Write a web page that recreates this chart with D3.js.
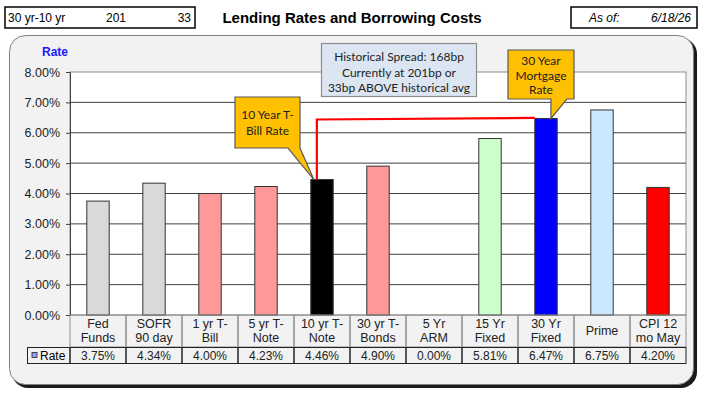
<!DOCTYPE html>
<html>
<head>
<meta charset="utf-8">
<script src="https://cdn.jsdelivr.net/npm/d3@7"></script>
<style>
  body { margin: 0; background: #fff; }
  text { font-family: "Liberation Sans", Arial, sans-serif; }
  text.callout { font-family: Lato, "Open Sans", sans-serif; }
</style>
</head>
<body>
<script>
// Data ////////////////////////////////////////////////////////////////////
const categories = [
  "Fed Funds", "SOFR 90 day", "1 yr  T-Bill", "5 yr T-Note", "10 yr T-Note",
  "30 yr T-Bonds", "5 Yr ARM", "15 Yr Fixed", "30 Yr Fixed", "Prime", "CPI 12 mo May",
];
const categoryLines = [
  ["Fed", "Funds"], ["SOFR", "90 day"], ["1 yr  T-", "Bill"], ["5 yr T-", "Note"],
  ["10 yr T-", "Note"], ["30 yr T-", "Bonds"], ["5 Yr", "ARM"], ["15 Yr", "Fixed"],
  ["30 Yr", "Fixed"], ["Prime"], ["CPI 12", "mo May"],
];
const rates = [3.75, 4.34, 4.0, 4.23, 4.46, 4.9, 0.0, 5.81, 6.47, 6.75, 4.2];
const yTicks = [0, 1, 2, 3, 4, 5, 6, 7, 8];
const spreadNow = 201;
const spreadAbove = 33;
const spreadHistorical = 168;
const asOfDate = "6/18/26";

const barColors = [
  "#d9d9d9", "#d9d9d9", "#ff9999", "#ff9999", "#000000", "#ff9999",
  "#d9d9d9", "#ccffcc", "#0000ff", "#cce8ff", "#ff0000",
];

// Layout //////////////////////////////////////////////////////////////////
const width = 707;
const height = 400;
const plot = { left: 70, right: 686, top: 72, bottom: 315 };
const tableRow1 = 347;
const tableRow2 = 363;

const svg = d3
  .select("body")
  .append("svg")
  .attr("width", width)
  .attr("height", height);

const x = d3
  .scaleBand()
  .domain(categories)
  .range([plot.left, plot.right])
  .paddingInner(0.6)
  .paddingOuter(0.3);

const y = d3.scaleLinear().domain([0, 8]).range([plot.bottom, plot.top]);

const step = x.step();
const colStart = (c) => x(c) - (step - x.bandwidth()) / 2;

drawHeader(svg);
drawPanel(svg);
drawPlot(svg);
drawBars(svg);
drawTable(svg);
drawCallouts(svg);

// Header //////////////////////////////////////////////////////////////////

function drawHeader(root) {
  const g = root.append("g");
  g.append("rect")
    .attr("x", 5).attr("y", 7).attr("width", 190).attr("height", 21)
    .attr("fill", "#fff").attr("stroke", "#000").attr("stroke-width", 1.5);
  g.append("text").attr("x", 8).attr("y", 22).attr("font-size", 12).text("30 yr-10 yr");
  g.append("text").attr("x", 116).attr("y", 22).attr("font-size", 12)
    .attr("text-anchor", "middle").text(spreadNow);
  g.append("text").attr("x", 191).attr("y", 22).attr("font-size", 12)
    .attr("text-anchor", "end").text(spreadAbove);

  g.append("text")
    .attr("x", 352).attr("y", 23)
    .attr("text-anchor", "middle")
    .attr("font-size", 15).attr("font-weight", "bold")
    .text("Lending Rates and Borrowing Costs");

  g.append("rect")
    .attr("x", 571).attr("y", 7).attr("width", 126).attr("height", 21)
    .attr("fill", "#fff").attr("stroke", "#000").attr("stroke-width", 1.5);
  g.append("text").attr("x", 589).attr("y", 22).attr("font-size", 12)
    .attr("font-style", "italic").text("As of:");
  g.append("text").attr("x", 691).attr("y", 22).attr("font-size", 12)
    .attr("font-style", "italic").attr("text-anchor", "end").text(asOfDate);
}

// Panel ///////////////////////////////////////////////////////////////////

function drawPanel(root) {
  root.append("rect")
    .attr("x", 12).attr("y", 38).attr("width", 685).attr("height", 350)
    .attr("rx", 16).attr("fill", "#1a1a1a");
  root.append("rect")
    .attr("x", 9.5).attr("y", 35.5).attr("width", 684).attr("height", 349)
    .attr("rx", 16).attr("fill", "#f2f2f2").attr("stroke", "#7f7f7f");
}

// Plot ////////////////////////////////////////////////////////////////////

function drawPlot(root) {
  root.append("rect")
    .attr("x", plot.left).attr("y", plot.top)
    .attr("width", plot.right - plot.left).attr("height", plot.bottom - plot.top)
    .attr("fill", "#fff").attr("stroke", "#8c8c8c");

  root.append("g")
    .selectAll("line")
    .data(yTicks.slice(1, -1))
    .join("line")
    .attr("x1", plot.left).attr("x2", plot.right)
    .attr("y1", (d) => y(d)).attr("y2", (d) => y(d))
    .attr("stroke", "#404040");

  const axis = root.append("g")
    .attr("transform", `translate(${plot.left},0)`)
    .call(d3.axisLeft(y).tickValues(yTicks).tickFormat((d) => d.toFixed(2) + "%").tickSize(4).tickPadding(6));
  axis.select(".domain").attr("stroke", "#404040");
  axis.selectAll(".tick line").attr("stroke", "#404040");
  axis.selectAll("text")
    .attr("font-size", 12.5)
    .attr("fill", "#222");

  root.append("text")
    .attr("x", 42).attr("y", 56)
    .attr("font-size", 12).attr("font-weight", "bold")
    .attr("fill", "#1a1aff")
    .text("Rate");
}

// Bars ////////////////////////////////////////////////////////////////////

function drawBars(root) {
  root.append("g")
    .selectAll("rect")
    .data(categories.map((c, i) => ({ c, v: rates[i], color: barColors[i] })))
    .join("rect")
    .filter((d) => d.v > 0)
    .attr("x", (d) => x(d.c))
    .attr("y", (d) => y(d.v))
    .attr("width", x.bandwidth())
    .attr("height", (d) => y(0) - y(d.v))
    .attr("fill", (d) => d.color)
    .attr("stroke", "#333")
    .attr("stroke-width", 1);
}

// Table ///////////////////////////////////////////////////////////////////

function drawTable(root) {
  const g = root.append("g");
  const lineColor = "#222";

  // legend cell
  g.append("rect")
    .attr("x", 27.5).attr("y", tableRow1 + 0.5)
    .attr("width", plot.left - 27.5).attr("height", tableRow2 - tableRow1)
    .attr("fill", "none").attr("stroke", lineColor);
  g.append("rect")
    .attr("x", 32).attr("y", 352.5).attr("width", 5).attr("height", 5)
    .attr("fill", "#9999ff").attr("stroke", "#222").attr("stroke-width", 0.8);
  g.append("text").attr("x", 40).attr("y", 360).attr("font-size", 12).text("Rate");

  const cols = g.selectAll("g.col")
    .data(categories.map((c, i) => ({ c, i })))
    .join("g")
    .attr("class", "col");

  cols.append("rect")
    .attr("x", (d) => colStart(d.c)).attr("y", plot.bottom)
    .attr("width", step).attr("height", tableRow1 - plot.bottom)
    .attr("fill", "none").attr("stroke", "#8c8c8c");
  cols.append("rect")
    .attr("x", (d) => colStart(d.c)).attr("y", tableRow1 + 0.5)
    .attr("width", step).attr("height", tableRow2 - tableRow1)
    .attr("fill", "none").attr("stroke", lineColor);

  cols.each(function (d) {
    const lines = categoryLines[d.i];
    const cx = x(d.c) + x.bandwidth() / 2;
    const t = d3.select(this).append("text")
      .attr("text-anchor", "middle")
      .attr("font-size", 12.5)
      .attr("fill", "#222");
    const y0 = lines.length === 1 ? 335 : 328;
    lines.forEach((l, k) => {
      t.append("tspan").attr("x", cx).attr("y", y0 + k * 14).text(l);
    });
  });

  cols.append("text")
    .attr("x", (d) => x(d.c) + x.bandwidth() / 2)
    .attr("y", 360)
    .attr("text-anchor", "middle")
    .attr("font-size", 12)
    .attr("fill", "#222")
    .text((d) => rates[d.i].toFixed(2) + "%");
}

// Callouts ////////////////////////////////////////////////////////////////

function drawCallouts(root) {
  const i10 = categories.indexOf("10 yr T-Note");
  const i30 = categories.indexOf("30 Yr Fixed");
  const c10 = categories[i10];
  const c30 = categories[i30];

  // red spread line
  const lx = x(c10) + x.bandwidth() * 0.27;
  const ly = y(rates[i30]) + 1;
  root.append("path")
    .attr("d", `M${lx},${y(rates[i10])} L${lx},${ly} L${x(c30)},${ly - 1.5}`)
    .attr("fill", "none")
    .attr("stroke", "#ff0000")
    .attr("stroke-width", 2.2);

  // info box
  root.append("rect")
    .attr("x", 321.5).attr("y", 43.5).attr("width", 155).attr("height", 53)
    .attr("fill", "#dce6f2").attr("stroke", "#8c8c8c").attr("stroke-width", 1.2);
  const info = root.append("text")
    .attr("class", "callout")
    .attr("text-anchor", "middle").attr("font-size", 12)
    .attr("fill", "#222");
  [
    `Historical Spread: ${spreadHistorical}bp`,
    `Currently at ${spreadNow}bp  or`,
    `${spreadAbove}bp ABOVE historical avg`,
  ].forEach((l, k) => info.append("tspan").attr("x", 399).attr("y", 61 + k * 15.5).text(l));

  // 10 yr callout
  const tip10 = [lx - 3, y(rates[i10])];
  drawCallout(root, { x: 235, y: 97, w: 65, h: 51 }, [288, 300], tip10,
    ["10 Year T-", "Bill Rate"], [119, 135]);

  // 30 yr callout
  const tip30 = [x(c30) + x.bandwidth() * 0.72, y(rates[i30])];
  drawCallout(root, { x: 508, y: 50, w: 66, h: 49 }, [tip30[0], tip30[0] + 16], tip30,
    ["30 Year", "Mortgage", "Rate"], [65, 79.5, 94]);
}

function drawCallout(root, b, base, tip, lines, ys) {
  const path = [
    [b.x, b.y], [b.x + b.w, b.y], [b.x + b.w, b.y + b.h],
    [base[1], b.y + b.h], tip, [base[0], b.y + b.h], [b.x, b.y + b.h],
  ];
  root.append("path")
    .attr("d", d3.line()(path) + "Z")
    .attr("fill", "#ffc000")
    .attr("stroke", "#595959")
    .attr("stroke-width", 1.2);
  const t = root.append("text")
    .attr("class", "callout")
    .attr("text-anchor", "middle").attr("font-size", 12)
    .attr("fill", "#222");
  lines.forEach((l, k) => t.append("tspan").attr("x", b.x + b.w / 2).attr("y", ys[k]).text(l));
}
</script>
</body>
</html>
